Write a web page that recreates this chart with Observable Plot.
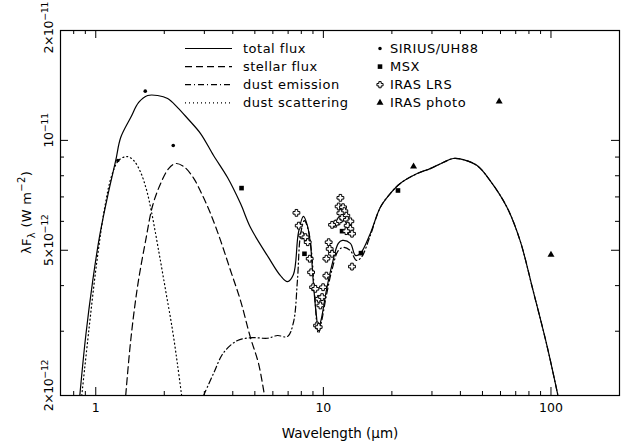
<!DOCTYPE html>
<html><head><meta charset="utf-8">
<script src="https://cdn.jsdelivr.net/npm/d3@7"></script>
<script src="https://cdn.jsdelivr.net/npm/@observablehq/plot@0.6"></script>
<style>
body{margin:0;background:#fff;}
#wrap{position:relative;width:635px;height:448px;font-family:"DejaVu Sans",sans-serif;}
#wrap svg{position:absolute;left:0;top:0;}
</style></head><body><div id="wrap"></div>
<script>
// ---- data (wavelength in µm, flux in units of 1e-12 W m^-2) ----
const totalWl = [0.851,0.904,0.970,1.041,1.129,1.224,1.287,1.424,1.544,1.691,1.870,2.069,2.289,2.532,2.887,3.293,3.793,4.325,4.784,5.739,6.478,6.953,7.387,7.770,8.173,8.508,8.770,9.041,9.318,9.508,9.800,10.31,10.95,11.63,12.12,13.14,13.82,14.53,16.08,17.78,19.67,21.76,25.84,29.47,33.60,37.17,41.11,47.35,54.02,64.13,73.11,83.41,96.0,107.3];
const totalF = [2.0,2.92,4.13,5.49,7.06,8.81,10.18,11.55,12.7,13.27,13.27,13.02,12.30,11.48,10.44,9.09,7.91,6.71,5.77,4.78,4.26,4.10,4.29,5.59,6.19,5.84,5.22,4.05,3.31,3.05,3.25,3.88,4.60,5.22,5.32,5.22,4.84,4.90,5.56,6.55,7.15,7.62,8.11,8.37,8.70,8.92,8.86,8.53,7.76,6.55,5.32,3.88,2.74,2.0];
const stellarWl = [1.354,1.424,1.528,1.657,1.778,1.928,2.090,2.244,2.432,2.664,2.917,3.194,3.533,3.909,4.325,4.784,5.187,5.511];
const stellarF = [2.0,2.83,4.00,5.32,6.63,7.62,8.37,8.64,8.48,7.96,7.15,6.30,5.32,4.40,3.64,2.88,2.45,2.0];
const dustWl = [2.977,3.293,3.642,4.196,4.882,5.680,6.284,6.953,7.387,7.691,7.929,8.255,8.596,8.859,9.132,9.508,9.800,10.31,10.95,11.63,12.24,13.14,13.96,14.68,16.08,17.78,19.67,21.76,25.84,29.47,33.60,37.17,41.11,47.35,54.02,64.13,73.11,83.41,96.0,107.3];
const dustF = [2.0,2.30,2.62,2.83,2.88,2.87,2.92,2.90,3.17,4.13,5.49,6.03,5.66,4.99,3.88,2.96,3.17,3.76,4.46,4.99,5.09,4.99,4.69,4.78,5.49,6.55,7.15,7.62,8.11,8.37,8.70,8.92,8.86,8.53,7.76,6.55,5.32,3.88,2.74,2.0];
const scatWl = [0.868,0.932,1.010,1.095,1.175,1.261,1.368,1.468,1.575,1.674,1.760,1.889,2.028,2.176,2.289,2.384];
const scatF = [2.0,3.01,4.63,6.55,8.01,8.81,9.03,8.81,8.17,7.29,6.34,4.99,3.88,3.01,2.42,2.0];
const siriusWl = [1.25,1.65,2.19];
const siriusF = [8.81,13.64,9.68];
const msxWl = [4.37,8.26,12.08,14.63,21.27];
const msxF = [7.40,4.89,5.64,4.91,7.29];
const lrsWl = [7.614,7.793,8.065,8.339,8.534,8.709,8.834,9.014,9.224,9.537,9.701,9.384,9.537,9.869,9.969,10.31,10.31,10.55,10.66,10.92,11.88,11.67,12.20,12.36,11.88,12.61,12.08,12.70,11.67,11.29,10.92,13.14,12.79,13.14,12.61,13.36,13.36];
const lrsF = [6.33,5.84,5.49,5.43,5.26,4.74,4.35,3.96,3.92,3.68,3.53,3.11,3.08,3.72,3.96,4.26,4.74,5.26,5.04,4.89,6.96,6.59,6.56,6.40,6.32,6.22,6.13,6.06,6.00,5.91,5.87,6.00,5.84,5.72,5.64,5.55,4.51];
const irasWl = [24.9,59.2,100];
const irasF = [8.48,12.78,4.86];

const xMajor = [1,10,100];
const xMajorLabels = ["1","10","100"];
const xMinor = [0.8,0.9,2,3,4,5,6,7,8,9,20,30,40,50,60,70,80,90];
const yMajor = [2e-12,5e-12,1e-11,2e-11];
const yLabelBase = ["2×10","5×10","10","2×10"];
const yLabelExp = ["−12","−12","−11","−11"];
const yMinor = [3e-12,4e-12,6e-12,7e-12,8e-12,9e-12];
const lineLabels = ["total flux","stellar flux","dust emission","dust scattering"];
const pointLabels = ["SIRIUS/UH88","MSX","IRAS LRS","IRAS photo"];

// ---- layout ----
const W = 635, H = 448, mL = 60, mR = 16, mT = 30, mB = 53;
const iW = W - mL - mR, iH = H - mT - mB;
const FONT = "DejaVu Sans";
const pts = (wl, f) => wl.map((w, i) => ({x: w, y: f[i] * 1e-12}));
const dashes = ["none", "7,4", "6,3,1,3", "1,3"];

// hollow-cross symbol (IRAS LRS)
const hollowCross = {
  draw(ctx, size) {
    const r = Math.sqrt(size / Math.PI), w = r * 0.38;
    ctx.moveTo(-w, -r); ctx.lineTo(w, -r); ctx.lineTo(w, -w); ctx.lineTo(r, -w);
    ctx.lineTo(r, w); ctx.lineTo(w, w); ctx.lineTo(w, r); ctx.lineTo(-w, r);
    ctx.lineTo(-w, w); ctx.lineTo(-r, w); ctx.lineTo(-r, -w); ctx.lineTo(-w, -w);
    ctx.closePath();
  }
};

const series = [[totalWl, totalF], [stellarWl, stellarF], [dustWl, dustF], [scatWl, scatF]];

const chart = Plot.plot({
  width: W, height: H, marginLeft: mL, marginRight: mR, marginTop: mT, marginBottom: mB,
  style: {fontFamily: FONT, fontSize: "13px", background: "white", color: "black"},
  x: {type: "log", domain: [0.7, 200], axis: null},
  y: {type: "log", domain: [2e-12, 2e-11], axis: null},
  marks: [
    ...series.map(([wl, f], i) => Plot.line(pts(wl, f), {x: "x", y: "y", stroke: "black", strokeWidth: 1.2, strokeDasharray: dashes[i] === "none" ? null : dashes[i], curve: "catmull-rom", clip: true})),
    Plot.dot(pts(siriusWl, siriusF), {x: "x", y: "y", r: 1.8, fill: "black", symbol: "circle"}),
    Plot.dot(pts(msxWl, msxF), {x: "x", y: "y", r: 2.6, fill: "black", symbol: "square"}),
    Plot.dot(pts(lrsWl, lrsF), {x: "x", y: "y", r: 3.4, fill: "white", stroke: "black", strokeWidth: 1, symbol: hollowCross}),
    Plot.dot(pts(irasWl, irasF), {x: "x", y: "y", r: 2.6, fill: "black", symbol: "triangle"}),
    // inward ticks on all four sides
    Plot.tickX(xMajor, {x: d => d, insetTop: iH - 8, stroke: "black"}),
    Plot.tickX(xMinor, {x: d => d, insetTop: iH - 4, stroke: "black"}),
    Plot.tickX(xMajor, {x: d => d, insetBottom: iH - 8, stroke: "black"}),
    Plot.tickX(xMinor, {x: d => d, insetBottom: iH - 4, stroke: "black"}),
    Plot.tickY(yMajor, {y: d => d, insetRight: iW - 8, stroke: "black"}),
    Plot.tickY(yMinor, {y: d => d, insetRight: iW - 4, stroke: "black"}),
    Plot.tickY(yMajor, {y: d => d, insetLeft: iW - 8, stroke: "black"}),
    Plot.tickY(yMinor, {y: d => d, insetLeft: iW - 4, stroke: "black"}),
    Plot.frame({stroke: "black", strokeWidth: 1.2}),
    Plot.text(xMajor, {x: d => d, text: (d, i) => xMajorLabels[i], frameAnchor: "bottom", dy: 16, fontSize: 12.5, fill: "black"}),
    Plot.text(["Wavelength (μm)"], {frameAnchor: "bottom", dy: 42, fontSize: 13.5, fill: "black"})
  ]
});
document.getElementById("wrap").appendChild(chart);

// ---- overlay: legend, y tick labels and y-axis title ----
const ov = d3.select("#wrap").append("svg").attr("width", W).attr("height", H)
  .style("pointer-events", "none").attr("font-family", FONT).attr("font-size", 13);
const row0 = 48.5, rowH = 18.1;
lineLabels.forEach((t, i) => {
  const y = row0 + i * rowH;
  ov.append("line").attr("x1", 185).attr("x2", 232).attr("y1", y).attr("y2", y)
    .attr("stroke", "black").attr("stroke-width", 1.2)
    .attr("stroke-dasharray", dashes[i] === "none" ? null : dashes[i]);
  ov.append("text").attr("x", 243).attr("y", y).attr("dy", "0.35em")
    .attr("letter-spacing", "0.5px").text(t);
});
const symDraw = [d3.symbolCircle, d3.symbolSquare, hollowCross, d3.symbolTriangle];
const symSize = [10, 21, 30, 21];
pointLabels.forEach((t, i) => {
  const y = row0 + i * rowH;
  ov.append("path").attr("transform", `translate(380,${y})`)
    .attr("d", d3.symbol(symDraw[i], symSize[i])())
    .attr("fill", i === 2 ? "white" : "black").attr("stroke", i === 2 ? "black" : "none");
  ov.append("text").attr("x", 390).attr("y", y).attr("dy", "0.35em")
    .attr("letter-spacing", "0.5px").text(t);
});

// y tick labels, rotated, base part centred on the tick (position from Plot's y scale)
const ys = chart.scale("y");
yMajor.forEach((v, i) => {
  const py = ys.apply(v);
  const t = ov.append("text").attr("font-size", 12.5).attr("letter-spacing", "-0.4px");
  const base = t.append("tspan").text(yLabelBase[i]);
  t.append("tspan").attr("dy", -5).attr("font-size", 9.5).text(yLabelExp[i]);
  const bl = base.node().getComputedTextLength();
  const total = t.node().getComputedTextLength();
  let start = py + bl / 2;               // screen y where label begins (bottom)
  if (start - total < 2) start = 2 + total; // keep inside the picture
  t.attr("transform", `translate(53,${start}) rotate(-90)`);
});

const yt = ov.append("text").attr("transform", `translate(31,${mT + iH / 2}) rotate(-90)`)
  .attr("text-anchor", "middle").attr("letter-spacing", "0.3px");
yt.append("tspan").text("λF");
yt.append("tspan").attr("dy", 4).attr("font-size", 10).text("λ");
yt.append("tspan").attr("dy", -4).text(" (W m");
yt.append("tspan").attr("dy", -6).attr("font-size", 10).text("−2");
yt.append("tspan").attr("dy", 6).text(")");
</script>
</body></html>
